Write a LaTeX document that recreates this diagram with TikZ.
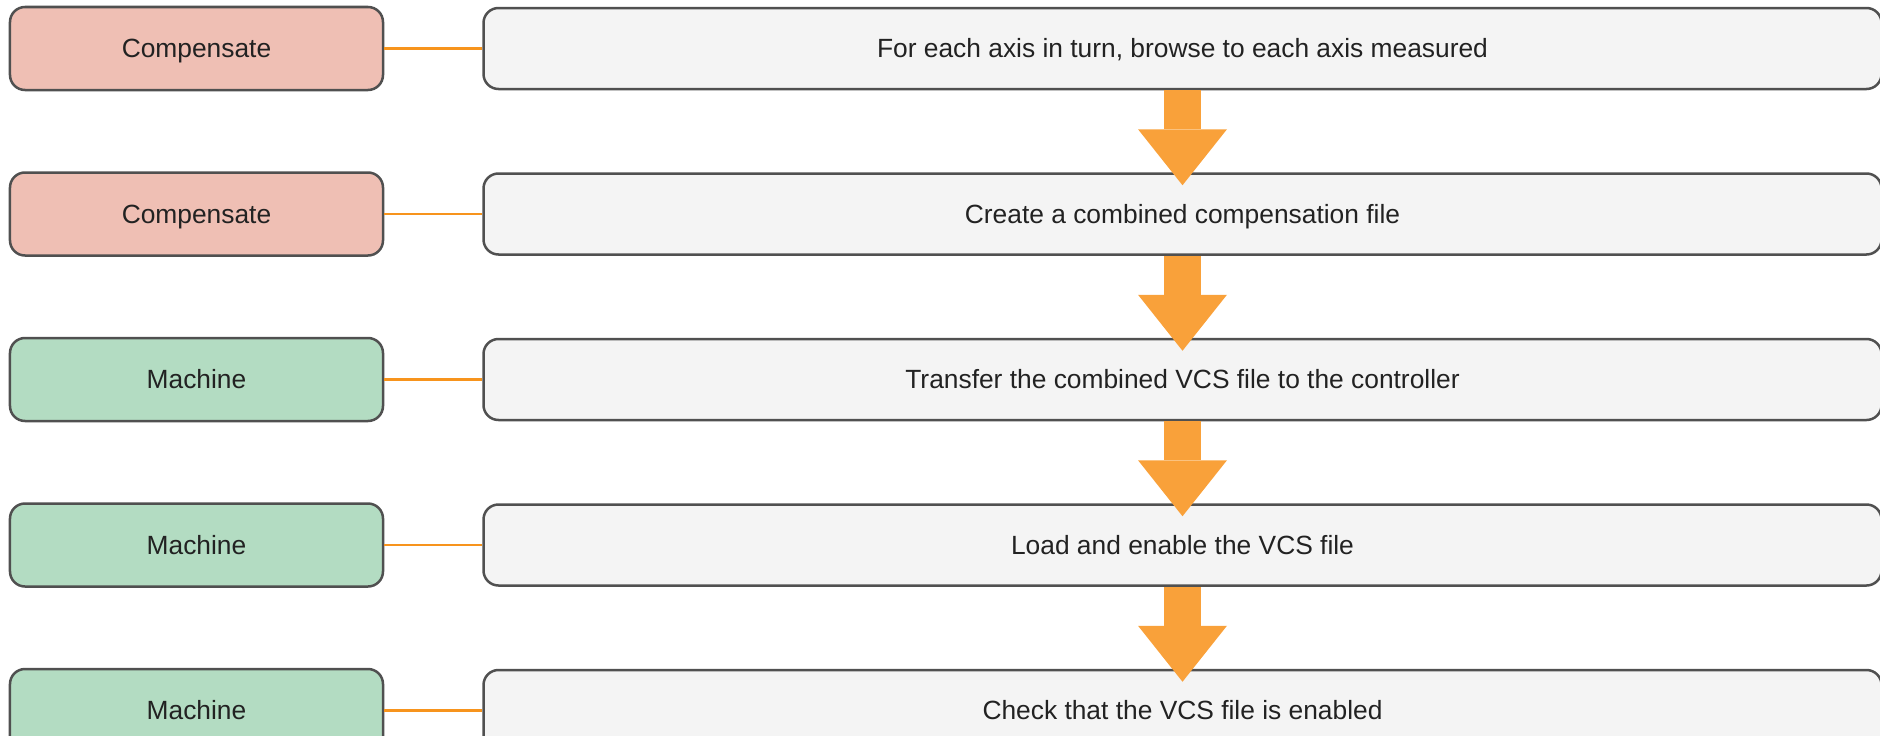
\documentclass[tikz,border=0pt]{standalone}
\usepackage{fontspec}
\setmainfont{Liberation Sans}
\usepackage{xcolor}
\usepackage{tikz}
\usetikzlibrary{positioning, arrows.meta}
\definecolor{ink}{HTML}{222222}
\definecolor{edge}{HTML}{505050}
\definecolor{salmon}{HTML}{EFBFB4}
\definecolor{sage}{HTML}{B3DCC2}
\definecolor{paper}{HTML}{F4F4F4}
\definecolor{amber}{HTML}{F9A13A}
\definecolor{wire}{HTML}{F7941D}

\begin{document}
\begin{tikzpicture}[
  node distance=1.6cm and 1.96cm,
  role/.style={rectangle, rounded corners=0.3cm, draw=edge, line width=0.05cm,
    text=ink, align=center, minimum height=1.66cm, minimum width=7.46cm,
    text height=10.8pt, text depth=0pt, font=\fontsize{15}{18}\selectfont},
  comp/.style={role, fill=salmon},
  mach/.style={role, fill=sage},
  stepbox/.style={rectangle, rounded corners=0.3cm, draw=edge, line width=0.05cm,
    fill=paper, text=ink, align=center, minimum height=1.62cm,
    minimum width=27.96cm, text height=10.8pt, text depth=0pt,
    font=\fontsize{15}{18}\selectfont},
  link/.style={draw=wire, line width=0.05cm},
  flow/.style={draw=amber, line width=0.74cm,
    -{Triangle[width=1.78cm, length=1.12cm, line width=0pt, fill=amber]},
    shorten >=-0.26cm}
]
\useasboundingbox (0,0) rectangle (37.6,-14.72);

\node[comp] (role1) at (3.93,-0.97) {Compensate};
\node[comp, below=of role1] (role2) {Compensate};
\node[mach, below=of role2] (role3) {Machine};
\node[mach, below=of role3] (role4) {Machine};
\node[mach, below=of role4] (role5) {Machine};

\node[stepbox, right=of role1] (step1) {For each axis in turn, browse to each axis measured};
\node[stepbox, right=of role2] (step2) {Create a combined compensation file};
\node[stepbox, right=of role3] (step3) {Transfer the combined VCS file to the controller};
\node[stepbox, right=of role4] (step4) {Load and enable the VCS file};
\node[stepbox, right=of role5] (step5) {Check that the VCS file is enabled};

% role to step
\draw[link] (role1) -- (step1);
\draw[link] (role2) -- (step2);
\draw[link] (role3) -- (step3);
\draw[link] (role4) -- (step4);
\draw[link] (role5) -- (step5);

% big arrows between steps
\draw[flow] (step1.south) -- (step2.north);
\draw[flow] (step2.south) -- (step3.north);
\draw[flow] (step3.south) -- (step4.north);
\draw[flow] (step4.south) -- (step5.north);
\end{tikzpicture}
\end{document}
